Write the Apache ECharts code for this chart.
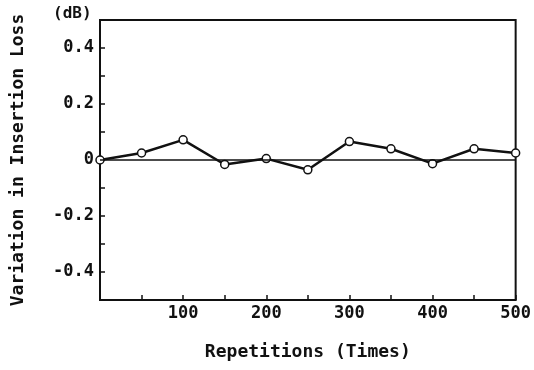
<!DOCTYPE html>
<html>
<head>
<meta charset="utf-8">
<script src="https://cdn.jsdelivr.net/npm/echarts@6/dist/echarts.min.js"></script>
<style>html,body{margin:0;padding:0;background:#fff}#c{width:534px;height:370px}</style>
</head>
<body>
<div id="c"></div>
<script>
var repetitions = [0, 50, 100, 150, 200, 250, 300, 350, 400, 450, 500];
var lossVariation = [0, 0.025, 0.072, -0.016, 0.005, -0.035, 0.066, 0.04, -0.013, 0.04, 0.025];
var yTickLabels = ['-0.4', '-0.2', '0', '0.2', '0.4'];
var xTickLabels = ['100', '200', '300', '400', '500'];

var FONT = 'DejaVu Sans Mono';
var chart = echarts.init(document.getElementById('c'), null, {renderer: 'canvas'});
chart.setOption({
  backgroundColor: '#fff',
  animation: false,
  grid: {left: 100, right: 16, top: 20, bottom: 70, show: true, borderColor: '#111', borderWidth: 2, backgroundColor: 'transparent'},
  xAxis: {
    type: 'value', min: 0, max: 500, interval: 50,
    axisLine: {show: false, onZero: false},
    axisTick: {show: true, inside: true, length: 5, lineStyle: {color: '#111', width: 1.5}},
    splitLine: {show: false},
    axisLabel: {
      margin: 5, color: '#111', fontFamily: FONT, fontSize: 17, fontWeight: 'bold',
      formatter: function (v) { var s = String(Math.round(v)); return xTickLabels.indexOf(s) >= 0 ? s : ''; }
    },
    name: 'Repetitions (Times)', nameLocation: 'middle', nameGap: 43,
    nameTextStyle: {color: '#111', fontFamily: FONT, fontSize: 18, fontWeight: 'bold'}
  },
  yAxis: {
    type: 'value', min: -0.5, max: 0.5, interval: 0.1,
    axisLine: {show: false, onZero: false},
    axisTick: {show: true, inside: true, length: 5, lineStyle: {color: '#111', width: 1.5}},
    splitLine: {show: false},
    axisLabel: {
      margin: 6, color: '#111', fontFamily: FONT, fontSize: 17, fontWeight: 'bold',
      formatter: function (v) {
        var r = Math.round(v * 10) / 10;
        var s = r === 0 ? '0' : r.toFixed(1);
        return yTickLabels.indexOf(s) >= 0 ? s : '';
      }
    },
    name: 'Variation in Insertion Loss', nameLocation: 'middle', nameGap: 73,
    nameTextStyle: {color: '#111', fontFamily: FONT, fontSize: 18, fontWeight: 'bold'}
  },
  graphic: [{
    type: 'text', left: 53, top: 6,
    style: {text: '(dB)', fill: '#111', font: 'bold 16px "DejaVu Sans Mono"'}
  }],
  series: [{
    type: 'line',
    data: repetitions.map(function (x, i) { return [x, lossVariation[i]]; }),
    symbol: 'circle', symbolSize: 8, showAllSymbol: true,
    lineStyle: {color: '#111', width: 2.5},
    itemStyle: {color: '#fff', borderColor: '#111', borderWidth: 1.5},
    z: 3,
    markLine: {
      silent: true, symbol: ['none', 'none'], label: {show: false},
      lineStyle: {color: '#111', width: 1.5, type: 'solid'},
      data: [{yAxis: 0}]
    }
  }]
});
</script>
</body>
</html>
